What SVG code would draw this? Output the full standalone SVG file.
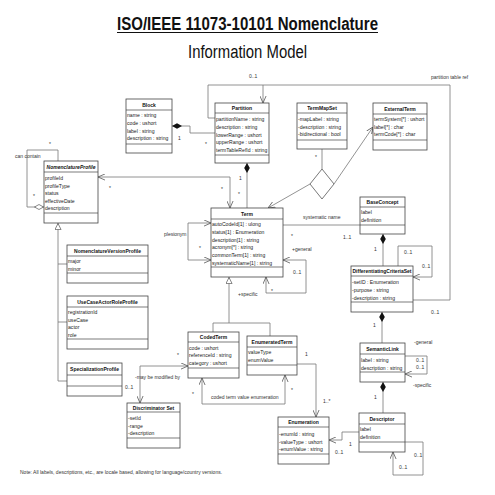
<svg xmlns="http://www.w3.org/2000/svg" width="495" height="495" viewBox="0 0 495 495">
<style>
.bg{fill:#fff}
.box{fill:#fff;stroke:#444;stroke-width:0.8}
.sep{stroke:#444;stroke-width:0.7}
.ln{fill:none;stroke:#777;stroke-width:0.8}
.h{font-family:"Liberation Sans",Arial,sans-serif;font-size:5px;font-weight:bold;text-anchor:middle;fill:#111}
.a{font-family:"Liberation Sans",Arial,sans-serif;font-size:5.1px;fill:#222}
.l{font-family:"Liberation Sans",Arial,sans-serif;font-size:5px;fill:#333}
.oa{marker-end:url(#oa)}
.oa2{marker-start:url(#oa);marker-end:url(#oa)}
</style>
<defs>
<marker id="oa" viewBox="0 0 8 8" refX="8" refY="4" markerWidth="7" markerHeight="7" markerUnits="userSpaceOnUse" orient="auto-start-reverse"><path d="M0,0.5 L8,4 L0,7.5" fill="none" stroke="#555" stroke-width="0.9"/></marker>
<marker id="fd" viewBox="0 0 10 6" refX="0" refY="3" markerWidth="10" markerHeight="6" markerUnits="userSpaceOnUse" orient="auto"><path d="M0,3 L5,0.2 L10,3 L5,5.8Z" fill="#111"/></marker>
<marker id="hd" viewBox="0 0 10 6" refX="10" refY="3" markerWidth="10" markerHeight="6" markerUnits="userSpaceOnUse" orient="auto"><path d="M0.5,3 L5,0.5 L9.5,3 L5,5.5Z" fill="#fff" stroke="#555" stroke-width="0.7"/></marker>
<marker id="tri" viewBox="0 0 8 8" refX="0" refY="4" markerWidth="7" markerHeight="7" markerUnits="userSpaceOnUse" orient="auto"><path d="M0.5,4 L7.5,0.5 L7.5,7.5Z" fill="#fff" stroke="#555" stroke-width="0.8"/></marker>
</defs>
<rect class="bg" x="0" y="0" width="495" height="495"/>

<g id="title">
<text x="247.5" y="30" font-family="'Liberation Sans',Arial,sans-serif" font-size="18" font-weight="bold" text-anchor="middle" textLength="261" lengthAdjust="spacingAndGlyphs" fill="#111">ISO/IEEE 11073-10101 Nomenclature</text>
<line x1="117" y1="32.5" x2="378" y2="32.5" stroke="#111" stroke-width="1.2"/>
<text x="247.5" y="58" font-family="'Liberation Sans',Arial,sans-serif" font-size="18" text-anchor="middle" textLength="119" lengthAdjust="spacingAndGlyphs" fill="#111">Information Model</text>
</g>

<g id="connectors">
<path class="ln" d="M172,126 H190 V133 H215" marker-start="url(#fd)"/>
<text class="l" x="178" y="140">1</text>
<text class="l" x="205" y="146">*</text>
<path class="ln" d="M215,118 H208 V85 H450 V300 H413"/>
<path class="ln oa" d="M263,85 V103"/>
<text class="l" x="249" y="78">0..1</text>
<text class="l" x="431" y="79">partition table ref</text>
<text class="l" x="431" y="314">0..1</text>
<path class="ln" d="M247,163 V208" marker-start="url(#fd)"/>
<text class="l" x="239" y="180">1</text>
<text class="l" x="238" y="196">*</text>
<path class="ln oa2" d="M98,177 H230 V208"/>
<text class="l" x="109" y="190">*</text>
<text class="l" x="221" y="191">*</text>
<path class="ln" d="M322,149 V169"/>
<polygon points="322,169 334,184 322,199 310,184" fill="#fff" stroke="#555" stroke-width="0.8"/>
<text class="l" x="315" y="159">*</text>
<path class="ln oa" d="M334,184 L373,127"/>
<path class="ln oa" d="M310,184 L268,208"/>
<text class="l" x="270" y="217">*</text>
<path class="ln oa2" d="M211,223 H188 V260 H211"/>
<text class="l" x="164" y="236">plesionym</text>
<text class="l" x="199" y="250">*</text>
<path class="ln" d="M283,225 H360"/>
<text class="l" x="303" y="219">systematic name</text>
<text class="l" x="291" y="238">*</text>
<text class="l" x="343" y="239">1..1</text>
<path class="ln oa2" d="M283,260 H306 V293 H266 V277"/>
<text class="l" x="292" y="251">+general</text>
<text class="l" x="293" y="274">0..1</text>
<text class="l" x="271" y="293">*</text>
<text class="l" x="238" y="296">+specific</text>
<path class="ln" d="M229,277 V323" marker-start="url(#tri)"/>
<path class="ln" d="M213,332 V323 H270 V336"/>
<path class="ln oa2" d="M202,378 V404 H285 V375"/>
<text class="l" x="211" y="399">coded term value enumeration</text>
<text class="l" x="192" y="396">*</text>
<text class="l" x="291" y="392">*</text>
<path class="ln oa" d="M297,364 H316 V417"/>
<text class="l" x="305" y="356">1</text>
<text class="l" x="323" y="403">1..*</text>
<path class="ln oa" d="M359,432 H342 V440 H329"/>
<text class="l" x="349" y="446">1</text>
<text class="l" x="335" y="454">0..1</text>
<path class="ln oa" d="M405,442 H423 V475 H393 V452"/>
<text class="l" x="414" y="457">0..1</text>
<text class="l" x="399" y="469">0..1</text>
<path class="ln" d="M383,382 V413" marker-start="url(#fd)"/>
<text class="l" x="374" y="399">1</text>
<path class="ln oa" d="M405,356 H427 V374 H405"/>
<text class="l" x="414" y="344">-general</text>
<text class="l" x="416" y="362">0..1</text>
<text class="l" x="416" y="369">0..1</text>
<text class="l" x="413" y="387">-specific</text>
<path class="ln" d="M382,312 V343" marker-start="url(#fd)"/>
<text class="l" x="373" y="327">1</text>
<path class="ln" d="M383,234 V266" marker-start="url(#fd)"/>
<text class="l" x="374" y="251">1</text>
<path class="ln oa" d="M398,266 V246 H432 V277 H413"/>
<text class="l" x="404" y="254">0..1</text>
<text class="l" x="422" y="268">0..1</text>
<path class="ln" d="M58,161 V150 H27 V207 H44" marker-end="url(#hd)"/>
<text class="l" x="15" y="158">can contain</text>
<text class="l" x="49" y="146">*</text>
<text class="l" x="33" y="198">*</text>
<path class="ln" d="M58,223 V381 H67" marker-start="url(#tri)"/>
<path class="ln" d="M58,264 H67 M58,322 H67"/>
<path class="ln oa2" d="M188,366 H140 V403"/>
<text class="l" x="135" y="379">-may be modified by</text>
<text class="l" x="177" y="357">*</text>
<text class="l" x="125" y="389">0..1</text>
</g>

<g id="Block">
<rect class="box" x="126" y="99" width="46" height="54"/>
<line class="sep" x1="126" y1="110" x2="172" y2="110"/><line class="sep" x1="126" y1="144" x2="172" y2="144"/>
<text class="h" x="149" y="106.5">Block</text>
<text class="a" x="127" y="117">name : string</text>
<text class="a" x="127" y="124.8">code : ushort</text>
<text class="a" x="127" y="132.6">label : string</text>
<text class="a" x="127" y="140.4">description : string</text>
</g>

<g id="Partition">
<rect class="box" x="215" y="103" width="54" height="60"/>
<line class="sep" x1="215" y1="113" x2="269" y2="113"/><line class="sep" x1="215" y1="155" x2="269" y2="155"/>
<text class="h" x="242" y="110">Partition</text>
<text class="a" x="216" y="121">partitionName : string</text>
<text class="a" x="216" y="128.8">description : string</text>
<text class="a" x="216" y="136.6">lowerRange : ushort</text>
<text class="a" x="216" y="144.4">upperRange : ushort</text>
<text class="a" x="216" y="152.2">termTableRefId : string</text>
</g>

<g id="TermMapSet">
<rect class="box" x="297" y="103" width="50" height="46"/>
<line class="sep" x1="297" y1="113" x2="347" y2="113"/><line class="sep" x1="297" y1="140" x2="347" y2="140"/>
<text class="h" x="322" y="110">TermMapSet</text>
<text class="a" x="298" y="121">-mapLabel : string</text>
<text class="a" x="298" y="128.5">-description : string</text>
<text class="a" x="298" y="136">-bidirectional : bool</text>
</g>

<g id="ExternalTerm">
<rect class="box" x="373" y="103" width="54" height="47"/>
<line class="sep" x1="373" y1="114" x2="427" y2="114"/><line class="sep" x1="373" y1="140" x2="427" y2="140"/>
<text class="h" x="400" y="110.5">ExternalTerm</text>
<text class="a" x="374" y="121">termSystem[*] : ushort</text>
<text class="a" x="374" y="128.5">label[*] : char</text>
<text class="a" x="374" y="136">termCode[*] : char</text>
</g>

<g id="NomenclatureProfile">
<rect class="box" x="44" y="161" width="54" height="62"/>
<line class="sep" x1="44" y1="172" x2="98" y2="172"/><line class="sep" x1="44" y1="213" x2="98" y2="213"/>
<text class="h" x="71" y="168.5" font-style="italic">NomenclatureProfile</text>
<text class="a" x="45" y="180">profileId</text>
<text class="a" x="45" y="187.6">profileType</text>
<text class="a" x="45" y="195.2">status</text>
<text class="a" x="45" y="202.8">effectiveDate</text>
<text class="a" x="45" y="210.4">description</text>
</g>

<g id="Term">
<rect class="box" x="211" y="208" width="72" height="69"/>
<line class="sep" x1="211" y1="219" x2="283" y2="219"/><line class="sep" x1="211" y1="267" x2="283" y2="267"/>
<text class="h" x="247" y="215.5">Term</text>
<text class="a" x="212" y="226">autoCodeId[1] : ulong</text>
<text class="a" x="212" y="233.8">status[1] : Enumeration</text>
<text class="a" x="212" y="241.6">description[1] : string</text>
<text class="a" x="212" y="249.4">acronym[*] : string</text>
<text class="a" x="212" y="257.2">commonTerm[1] : string</text>
<text class="a" x="212" y="265">systematicName[1] : string</text>
</g>

<g id="BaseConcept">
<rect class="box" x="360" y="197" width="45" height="37"/>
<line class="sep" x1="360" y1="207" x2="405" y2="207"/><line class="sep" x1="360" y1="225" x2="405" y2="225"/>
<text class="h" x="382.5" y="204">BaseConcept</text>
<text class="a" x="361" y="214">label</text>
<text class="a" x="361" y="221.8">definition</text>
</g>

<g id="DifferentiatingCriteriaSet">
<rect class="box" x="351" y="266" width="62" height="46"/>
<line class="sep" x1="351" y1="276" x2="413" y2="276"/><line class="sep" x1="351" y1="302" x2="413" y2="302"/>
<text class="h" x="382" y="273" textLength="59" lengthAdjust="spacingAndGlyphs">DifferentiatingCriteriaSet</text>
<text class="a" x="352" y="284">-setID : Enumeration</text>
<text class="a" x="352" y="292">-purpose : string</text>
<text class="a" x="352" y="300">-description : string</text>
</g>

<g id="SemanticLink">
<rect class="box" x="360" y="343" width="45" height="39"/>
<line class="sep" x1="360" y1="354" x2="405" y2="354"/><line class="sep" x1="360" y1="372" x2="405" y2="372"/>
<text class="h" x="382.5" y="350.5">SemanticLink</text>
<text class="a" x="361" y="362">label : string</text>
<text class="a" x="361" y="369.5">description : string</text>
</g>

<g id="Descriptor">
<rect class="box" x="359" y="413" width="46" height="39"/>
<line class="sep" x1="359" y1="424" x2="405" y2="424"/><line class="sep" x1="359" y1="442" x2="405" y2="442"/>
<text class="h" x="382" y="420.5">Descriptor</text>
<text class="a" x="360" y="431">label</text>
<text class="a" x="360" y="439">definition</text>
</g>

<g id="Enumeration">
<rect class="box" x="278" y="417" width="51" height="47"/>
<line class="sep" x1="278" y1="427" x2="329" y2="427"/><line class="sep" x1="278" y1="454" x2="329" y2="454"/>
<text class="h" x="303.5" y="424">Enumeration</text>
<text class="a" x="279" y="436">-enumId : string</text>
<text class="a" x="279" y="443.7">-valueType : ushort</text>
<text class="a" x="279" y="451.4">-enumValue : string</text>
</g>

<g id="CodedTerm">
<rect class="box" x="188" y="332" width="51" height="46"/>
<line class="sep" x1="188" y1="342" x2="239" y2="342"/><line class="sep" x1="188" y1="368" x2="239" y2="368"/>
<text class="h" x="213.5" y="339">CodedTerm</text>
<text class="a" x="189" y="349.5">code : ushort</text>
<text class="a" x="189" y="357.2">referenceId : string</text>
<text class="a" x="189" y="365">category : ushort</text>
</g>

<g id="EnumeratedTerm">
<rect class="box" x="247" y="336" width="50" height="39"/>
<line class="sep" x1="247" y1="347" x2="297" y2="347"/><line class="sep" x1="247" y1="365" x2="297" y2="365"/>
<text class="h" x="272" y="343.5">EnumeratedTerm</text>
<text class="a" x="248" y="354">valueType</text>
<text class="a" x="248" y="362">enumValue</text>
</g>

<g id="DiscriminatorSet">
<rect class="box" x="127" y="403" width="53" height="45"/>
<line class="sep" x1="127" y1="412" x2="180" y2="412"/><line class="sep" x1="127" y1="438" x2="180" y2="438"/>
<text class="h" x="153.5" y="409.5">Discriminator Set</text>
<text class="a" x="128" y="420">-setId</text>
<text class="a" x="128" y="427.5">-range</text>
<text class="a" x="128" y="435">-description</text>
</g>

<g id="NomenclatureVersionProfile">
<rect class="box" x="67" y="245" width="81" height="38"/>
<line class="sep" x1="67" y1="256" x2="148" y2="256"/><line class="sep" x1="67" y1="273" x2="148" y2="273"/>
<text class="h" x="107.5" y="252.5">NomenclatureVersionProfile</text>
<text class="a" x="68" y="263">major</text>
<text class="a" x="68" y="270.5">minor</text>
</g>

<g id="UseCaseActorRoleProfile">
<rect class="box" x="67" y="296" width="81" height="53"/>
<line class="sep" x1="67" y1="307" x2="148" y2="307"/><line class="sep" x1="67" y1="339" x2="148" y2="339"/>
<text class="h" x="107.5" y="303.5">UseCaseActorRoleProfile</text>
<text class="a" x="68" y="314">registrationId</text>
<text class="a" x="68" y="321.7">useCase</text>
<text class="a" x="68" y="329.4">actor</text>
<text class="a" x="68" y="337">role</text>
</g>

<g id="SpecializationProfile">
<rect class="box" x="67" y="363" width="55" height="33"/>
<line class="sep" x1="67" y1="375" x2="122" y2="375"/><line class="sep" x1="67" y1="386" x2="122" y2="386"/>
<text class="h" x="94.5" y="371">SpecializationProfile</text>
</g>

<g id="note">
<text class="l" x="20" y="474">Note:  All labels, descriptions, etc., are locale based, allowing for language/country versions.</text>
</g>
</svg>
